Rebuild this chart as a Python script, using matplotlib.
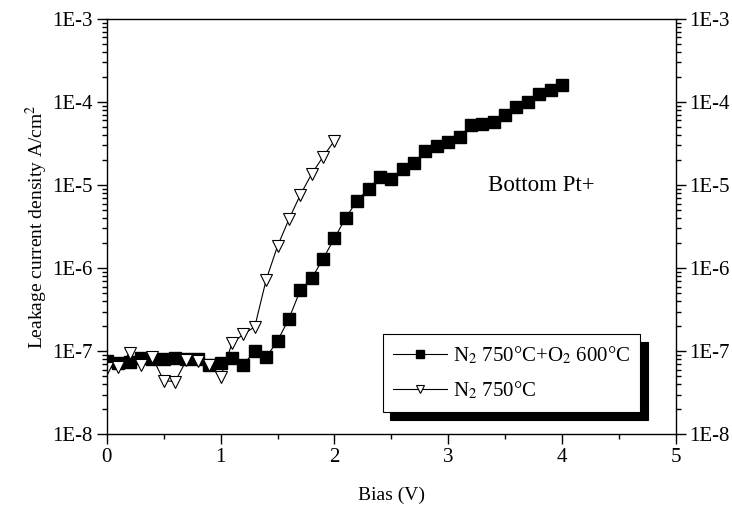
import numpy as np
import matplotlib
matplotlib.use("Agg")
import matplotlib.pyplot as plt
from matplotlib.ticker import FuncFormatter, LogLocator, MultipleLocator

plt.rcParams['font.family'] = ['Liberation Serif', 'DejaVu Serif']
plt.rcParams['mathtext.fontset'] = 'stix'

# N2 750C + O2 600C (filled squares)
bias_sq = np.round(np.arange(0, 4.01, 0.1), 1)
j_sq = [7.6e-8, 7.2e-8, 7.3e-8, 8.3e-8, 8.1e-8, 8.1e-8, 8.2e-8, 8.0e-8, 8.1e-8, 6.8e-8,
        7.1e-8, 8.3e-8, 6.9e-8, 1.0e-7, 8.4e-8, 1.33e-7, 2.45e-7, 5.4e-7, 7.5e-7, 1.29e-6,
        2.28e-6, 4.04e-6, 6.5e-6, 8.95e-6, 1.24e-5, 1.17e-5, 1.55e-5, 1.86e-5, 2.57e-5, 2.95e-5,
        3.27e-5, 3.76e-5, 5.3e-5, 5.43e-5, 5.8e-5, 7.0e-5, 8.8e-5, 1.01e-4, 1.25e-4, 1.38e-4,
        1.6e-4]

# N2 750C (open triangles)
bias_tri = np.round(np.arange(0, 2.01, 0.1), 1)
j_tri = [6.3e-8, 6.5e-8, 9.5e-8, 6.9e-8, 8.4e-8, 4.4e-8, 4.3e-8, 7.8e-8, 7.6e-8, 6.8e-8,
         4.9e-8, 1.24e-7, 1.6e-7, 1.96e-7, 7.2e-7, 1.84e-6, 3.86e-6, 7.6e-6, 1.36e-5, 2.19e-5,
         3.42e-5]

labels = [r'N$_2$ 750°C+O$_2$ 600°C', r'N$_2$ 750°C']

fig = plt.figure(figsize=(7.32, 5.15), dpi=100)
ax = fig.add_axes([0.146, 0.157, 0.777, 0.806])

ax.plot(bias_sq, j_sq, '-', color='k', lw=0.8, marker='s', ms=8,
        mfc='k', mec='k', label=labels[0])
ax.plot(bias_tri, j_tri, '-', color='k', lw=0.8, marker='v', ms=8.5,
        mfc='white', mec='k', mew=0.8, label=labels[1])

ax.set_yscale('log')
ax.set_xlim(0, 5)
ax.set_ylim(1e-8, 1e-3)
ax.xaxis.set_major_locator(MultipleLocator(1))
ax.xaxis.set_minor_locator(MultipleLocator(0.5))
ax.yaxis.set_major_locator(LogLocator(base=10))
ax.yaxis.set_minor_locator(LogLocator(base=10, subs=np.arange(2, 10)))
ax.yaxis.set_major_formatter(FuncFormatter(lambda v, p: f"1E{int(round(np.log10(v)))}"))
ax.yaxis.set_minor_formatter(FuncFormatter(lambda v, p: ""))

ax.tick_params(which='both', direction='out', top=False, right=True,
               labelright=True, width=1, labelsize=15, color='k')
ax.tick_params(which='major', length=7, pad=3)
ax.tick_params(which='minor', length=3.5)
for s in ax.spines.values():
    s.set_linewidth(1)

ax.set_xlabel('Bias (V)', fontsize=14, labelpad=14)
ax.set_ylabel(r'Leakage current density A/cm$^2$', fontsize=14, labelpad=2)

ax.text(3.35, 1.0e-5, 'Bottom Pt+', fontsize=16.5, va='center', ha='left')

leg = ax.legend(loc='lower left', bbox_to_anchor=(0.485, 0.053), fontsize=15,
                frameon=True, fancybox=False, edgecolor='k', framealpha=1,
                markerscale=0.65, handlelength=2.6, handletextpad=0.25,
                borderpad=0.5, labelspacing=0.65, borderaxespad=0,
                shadow=dict(ox=5.5, oy=-5.5, color='k', alpha=1))
leg.get_frame().set_linewidth(0.8)

fig.savefig('out.png', dpi=100)
